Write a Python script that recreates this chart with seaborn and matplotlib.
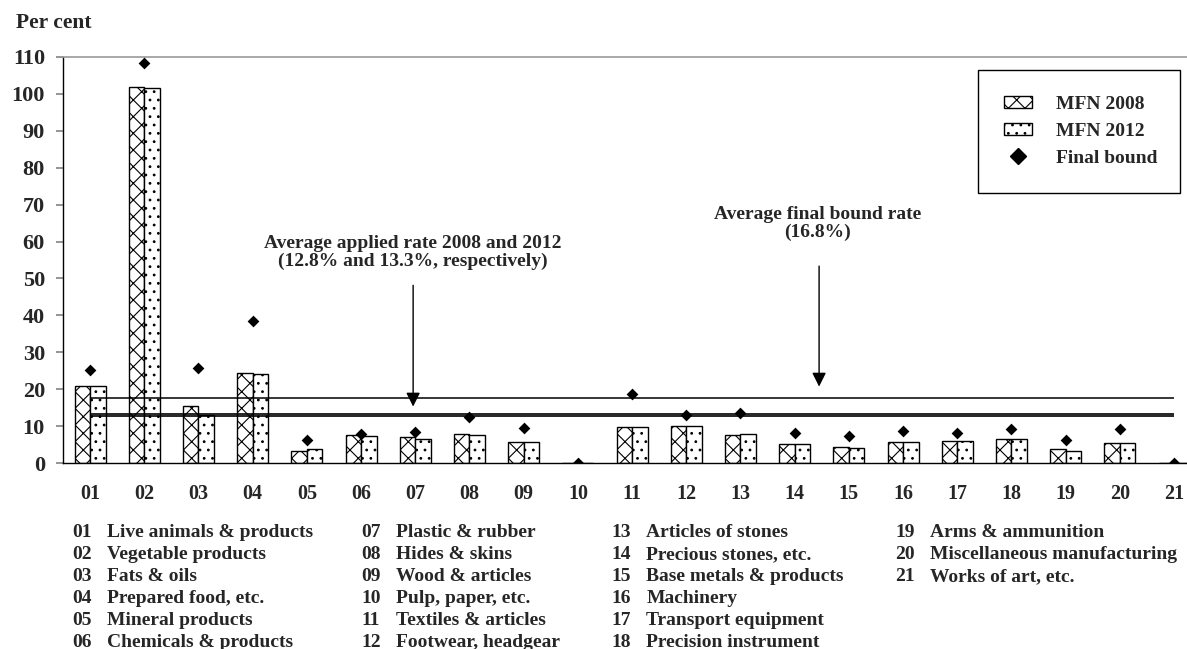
import numpy as np
import pandas as pd
import matplotlib
matplotlib.use("Agg")
import matplotlib.pyplot as plt
from matplotlib.patches import Patch
from matplotlib.lines import Line2D
import seaborn as sns

# HS sections
codes = ['01', '02', '03', '04', '05', '06', '07', '08', '09', '10', '11',
         '12', '13', '14', '15', '16', '17', '18', '19', '20', '21']
section_names = ['Live animals & products', 'Vegetable products', 'Fats & oils',
                 'Prepared food, etc.', 'Mineral products', 'Chemicals & products',
                 'Plastic & rubber', 'Hides & skins', 'Wood & articles',
                 'Pulp, paper, etc.', 'Textiles & articles', 'Footwear, headgear',
                 'Articles of stones', 'Precious stones, etc.', 'Base metals & products',
                 'Machinery', 'Transport equipment', 'Precision instrument',
                 'Arms & ammunition', 'Miscellaneous manufacturing', 'Works of art, etc.']

# Average tariff rates (per cent)
mfn_2008 = [20.9, 101.9, 15.6, 24.3, 3.4, 7.7, 7.0, 7.9, 5.7, 0.0, 9.8,
            10.2, 7.7, 5.1, 4.3, 5.7, 5.9, 6.6, 3.8, 5.4, 0.0]
mfn_2012 = [20.9, 101.4, 13.2, 24.2, 3.8, 7.5, 6.5, 7.7, 5.7, 0.0, 9.7,
            10.1, 7.8, 5.1, 4.2, 5.7, 5.9, 6.6, 3.4, 5.4, 0.0]
final_bound = [25.2, 108.4, 25.8, 38.6, 6.3, 8.0, 8.6, 12.5, 9.6, 0.0, 18.7,
               13.1, 13.5, 8.2, 7.3, 8.7, 8.1, 9.3, 6.4, 9.3, 0.0]

# Overall averages drawn as horizontal lines
avg_applied = [12.8, 13.3]
avg_bound = 17.6

sns.set_theme(style="white")
plt.rcParams['font.family'] = ['Liberation Serif', 'DejaVu Serif']
plt.rcParams['font.weight'] = 'bold'
plt.rcParams['hatch.color'] = '#4a4a4a'
plt.rcParams['hatch.linewidth'] = 0.8

df = pd.DataFrame({
    'code': codes * 2,
    'series': ['MFN 2008'] * len(codes) + ['MFN 2012'] * len(codes),
    'value': mfn_2008 + mfn_2012,
})

fig = plt.figure(figsize=(11.87, 6.49), dpi=100)
ax = fig.add_axes([63 / 1187, 185.7 / 649, 1138.2 / 1187, 406.6 / 649])

sns.barplot(data=df, x='code', y='value', hue='series', order=codes,
            palette=['white', 'white'], edgecolor='black', linewidth=1,
            width=0.57, errorbar=None, legend=False, ax=ax, zorder=2)
for bar in ax.containers[0]:
    bar.set_hatch('xx')
for bar in ax.containers[1]:
    bar.set_hatch('..')

# average lines
ax.hlines(avg_applied, 0, len(codes) - 1, color='black', linewidth=1.2, zorder=3)
ax.hlines(avg_bound, 0, len(codes) - 1, color='black', linewidth=1.1, zorder=3)

sns.stripplot(x=codes, y=final_bound, order=codes, marker='D', color='black',
              size=6, jitter=False, linewidth=0, ax=ax, zorder=4)

ax.set_xlim(-0.5, len(codes) - 0.5)
ax.set_ylim(0, 110)
ax.set_yticks(np.arange(0, 111, 10))
ax.set_xlabel('')
ax.set_ylabel('')
ax.set_xticks(range(len(codes)))
ax.set_xticklabels(codes, fontsize=14.5, fontweight='bold')
ax.set_xticks(np.arange(-0.5, len(codes), 1), minor=True)
ax.tick_params(axis='x', which='major', length=0, pad=15)
ax.tick_params(axis='x', which='minor', length=6, color='#888888', direction='out')
ax.tick_params(axis='y', length=5, color='#888888', direction='out', pad=8,
               labelsize=16, left=True)
for lab in ax.get_yticklabels():
    lab.set_fontweight('bold')

for side in ['left', 'bottom']:
    ax.spines[side].set_color('black')
    ax.spines[side].set_linewidth(1)
ax.spines['top'].set_color('#999999')
ax.spines['top'].set_linewidth(1.2)
ax.spines['right'].set_visible(False)

# annotations
arrow = dict(arrowstyle='-|>,head_length=0.6,head_width=0.3',
             color='black', lw=1, mutation_scale=14)
ax.annotate('', xy=(5.96, 14.6), xytext=(5.96, 48.9), arrowprops=arrow)
ax.text(5.95, 57.0, 'Average applied rate 2008 and 2012\n(12.8% and 13.3%, respectively)',
        ha='center', va='center', fontsize=14, fontweight='bold', linespacing=1.0)
ax.annotate('', xy=(13.45, 20.0), xytext=(13.45, 54.1), arrowprops=arrow)
ax.text(13.42, 64.9, 'Average final bound rate\n(16.8%)',
        ha='center', va='center', fontsize=14, fontweight='bold', linespacing=1.0)

# legend
handles = [Patch(facecolor='white', edgecolor='black', hatch='xx', linewidth=1),
           Patch(facecolor='white', edgecolor='black', hatch='..', linewidth=1),
           Line2D([], [], marker='D', color='black', linestyle='none', markersize=8.5)]
leg = fig.legend(handles, ['MFN 2008', 'MFN 2012', 'Final bound'],
                 loc='upper left', bbox_to_anchor=(978 / 1187, 1 - 70 / 649, 202 / 1187, 0),
                 mode='expand', prop={'size': 14, 'weight': 'bold'},
                 handlelength=1.44, handleheight=0.57, handletextpad=1.2,
                 borderpad=1.35, labelspacing=0.5, fancybox=False, framealpha=1,
                 edgecolor='black', borderaxespad=0)
leg.get_frame().set_linewidth(1)

fig.text(16 / 1187, 1 - 22.7 / 649, 'Per cent', ha='left', va='center',
         fontsize=15.5, fontweight='bold')

# section key below the axis
col_x = [72.7, 361.7, 611.7, 895.5]
for i, (code, name) in enumerate(zip(codes, section_names)):
    col, row = divmod(i, 6)
    y = 1 - (532.5 + 22.0 * row) / 649
    fig.text(col_x[col] / 1187, y, code, ha='left', va='center', fontsize=14, fontweight='bold')
    fig.text((col_x[col] + 34.5) / 1187, y, name, ha='left', va='center', fontsize=14,
             fontweight='bold')

fig.savefig('out.png', dpi=100)
